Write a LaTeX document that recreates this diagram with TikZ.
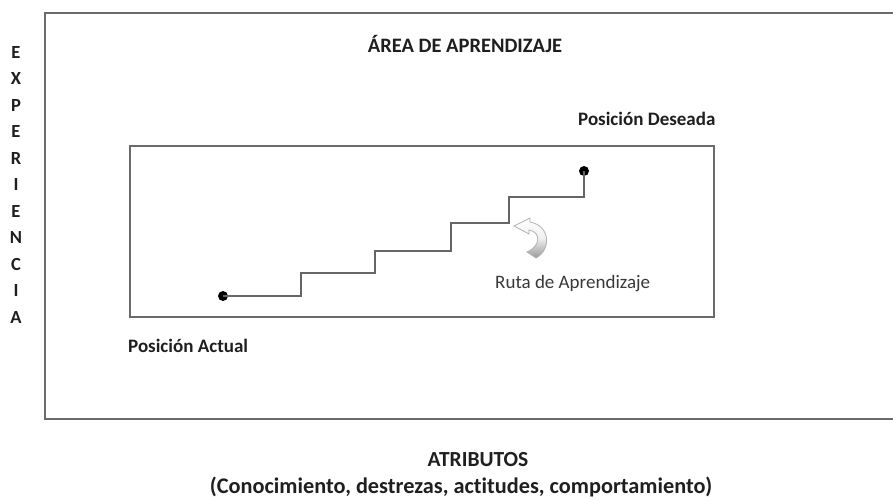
\documentclass[tikz,border=0pt]{standalone}
\usepackage{fontspec}
\setmainfont[Ligatures=NoCommon]{Carlito}
\begin{document}
\begin{tikzpicture}[x=1pt,y=-1pt,
  frame/.style={draw=black!58,line width=1.8pt},
  stair/.style={draw=black!60,line width=1.8pt,line join=miter},
  dotnode/.style={circle,fill=black,inner sep=0pt,minimum size=10pt},
  boldlbl/.style={font=\bfseries\fontsize{19}{22}\selectfont,text=black!88,inner sep=0pt},
  vletter/.style={font=\bfseries\fontsize{18.5}{20}\selectfont,text=black!88,inner sep=0pt}]
\useasboundingbox[fill=white] (0,0) rectangle (893,499);
% outer frame (right side beyond the picture)
\draw[frame] (893,13) -- (45,13) -- (45,419) -- (893,419);
% inner rectangle
\node[draw=black!58,line width=1.8pt,inner sep=0pt,minimum width=584pt,minimum height=171pt] (area) at (422,231.5) {};
% texts
\node[boldlbl,font=\bfseries\fontsize{20.5}{24}\selectfont] (title) at (465,44) {ÁREA DE APRENDIZAJE};
\node[boldlbl,anchor=west] (deseada) at (578,119) {Posición Deseada};
\node[boldlbl,anchor=west] (actual) at (128,346) {Posición Actual};
\node[inner sep=0pt,font=\fontsize{19}{22}\selectfont,text=black!78,anchor=west] (ruta) at (495,284) {Ruta de Aprendizaje};
\node[boldlbl,font=\bfseries\fontsize{21.5}{24}\selectfont] (atrib) at (478,460) {ATRIBUTOS};
\node[boldlbl,font=\bfseries\fontsize{22.3}{24}\selectfont] (conoc) at (461,487) {(Conocimiento, destrezas, actitudes, comportamiento)};
% vertical EXPERIENCIA
\foreach \l [count=\i from 0] in {E,X,P,E,R,I,E,N,C,I,A}
  \node[vletter] (v\i) at (16,{52+26.5*\i}) {\l};
% dots and staircase path
\node[dotnode] (start) at (223,296) {};
\node[dotnode] (goal) at (584,171) {};
\draw[stair] (start.center) -- (301,296) -- (301,273) -- (375,273) -- (375,251)
  -- (451,251) -- (451,223) -- (509,223) -- (509,197) -- (584,197) -- (goal.center);
% curved arrow
\path[draw=black!30,line width=0.8pt,top color=white,bottom color=black!40,middle color=black!6]
  (536,258) .. controls (551,250) and (551,226) .. (530,222)
  -- (530,218) -- (514,226) -- (529,234) -- (529,230)
  .. controls (541,232) and (541,246) .. (527,252) -- cycle;
\end{tikzpicture}
\end{document}
